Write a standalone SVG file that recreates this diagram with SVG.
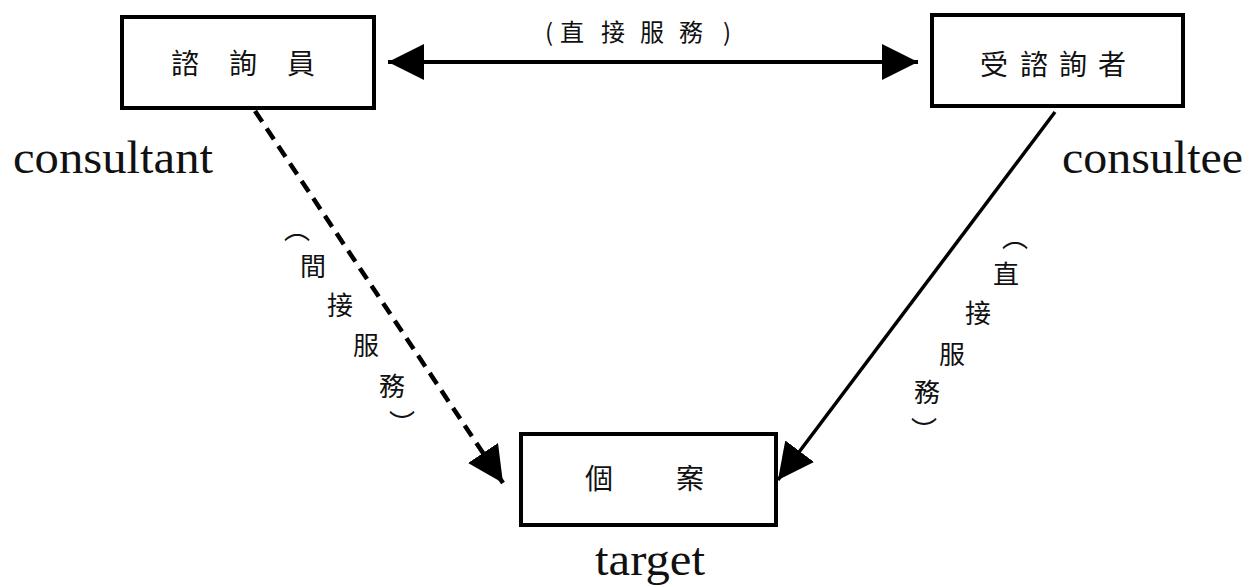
<svg xmlns="http://www.w3.org/2000/svg" width="1251" height="587" viewBox="0 0 1251 587">
<style>
.box{fill:#fff;stroke:#000;stroke-width:4}
.cjk{font-family:"Noto Sans CJK TC","Noto Sans CJK SC",serif;fill:#111;text-anchor:middle;dominant-baseline:central}
.en{font-family:"Liberation Serif","Times New Roman",serif;fill:#111;font-size:46px}
.ln{stroke:#000;stroke-width:4;fill:none}
.dash{stroke-dasharray:13 8;stroke-width:4.5}
</style>
<defs>
<marker id="ah" viewBox="0 0 36 36" refX="36" refY="18" markerWidth="36" markerHeight="36" markerUnits="userSpaceOnUse" orient="auto-start-reverse">
<path d="M0,0 L36,18 L0,36 z" fill="#000"/>
</marker>
</defs>
<rect width="1251" height="587" fill="#fff"/>
<g id="connectors">
<line class="ln" x1="388" y1="62" x2="918" y2="62" marker-start="url(#ah)" marker-end="url(#ah)"/>
<line class="ln dash" x1="255" y1="111" x2="503" y2="483" marker-end="url(#ah)"/>
<line class="ln" x1="1055" y1="112" x2="778" y2="480" marker-end="url(#ah)" style="stroke-width:3.5"/>
<text class="cjk" font-size="24" x="549 572 613 652 691 727" y="30">(直接服務)</text>
<text class="cjk" font-size="26"><tspan x="297" y="227">︵</tspan><tspan x="313" y="264">間</tspan><tspan x="340" y="303">接</tspan><tspan x="366" y="343">服</tspan><tspan x="392" y="384">務</tspan><tspan x="402" y="421">︶</tspan></text>
<text class="cjk" font-size="26"><tspan x="1015" y="235">︵</tspan><tspan x="1006" y="272">直</tspan><tspan x="978" y="311">接</tspan><tspan x="952" y="352">服</tspan><tspan x="927" y="390">務</tspan><tspan x="924" y="428">︶</tspan></text>
</g>
<g id="consultant">
<rect class="box" x="122" y="17" width="252" height="91"/>
<text class="cjk" font-size="28" x="185 243 301" y="62">諮詢員</text>
<text class="en" x="13" y="173" textLength="200" lengthAdjust="spacingAndGlyphs">consultant</text>
</g>
<g id="consultee">
<rect class="box" x="932" y="15" width="251" height="91"/>
<text class="cjk" font-size="28" x="994 1034 1073 1112" y="63">受諮詢者</text>
<text class="en" x="1062" y="173" textLength="181" lengthAdjust="spacingAndGlyphs">consultee</text>
</g>
<g id="target">
<rect class="box" x="521" y="434" width="255" height="91"/>
<text class="cjk" font-size="28" x="599 690" y="477">個案</text>
<text class="en" x="595" y="575" textLength="110" lengthAdjust="spacingAndGlyphs">target</text>
</g>
</svg>
